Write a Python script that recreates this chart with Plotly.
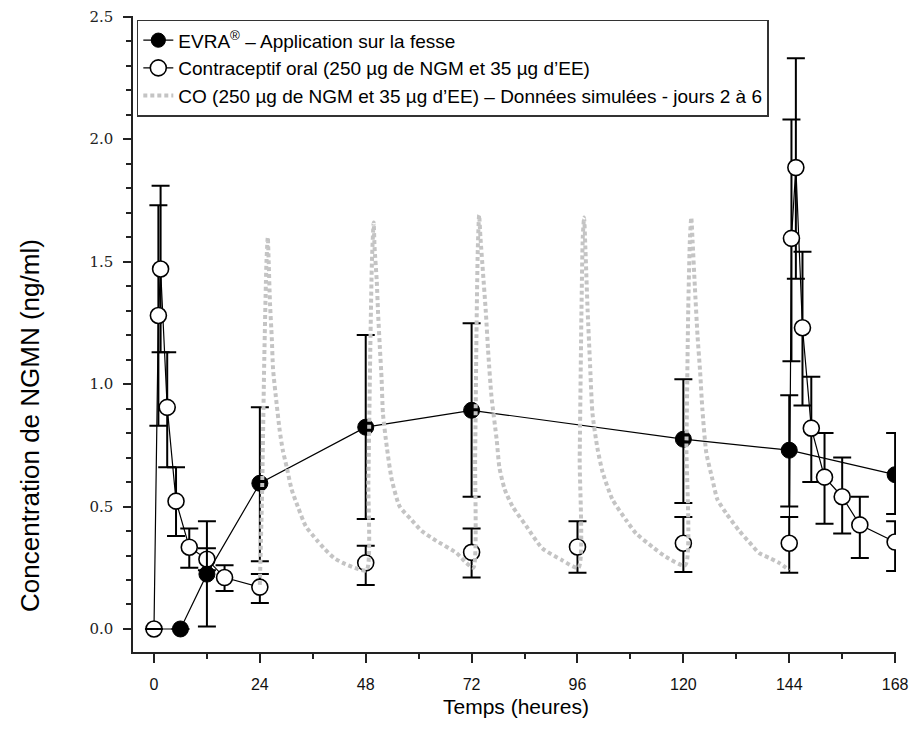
import plotly.graph_objects as go

# ---------------- data ----------------
evra_t = [0, 6, 12, 24, 48, 72, 120, 144, 168]
evra_y = [0.0, 0.0, 0.224, 0.595, 0.824, 0.893, 0.775, 0.73, 0.63]
evra_hi = [None, None, 0.44, 0.905, 1.20, 1.248, 1.02, 0.954, 0.80]
evra_lo = [None, None, 0.01, 0.277, 0.449, 0.54, 0.514, 0.50, 0.47]

# oral contraceptive, day 1 profile
oc_day1_t = [0, 1, 1.5, 3, 5, 8, 12, 16, 24]
oc_day1_y = [0.0, 1.28, 1.47, 0.905, 0.522, 0.334, 0.285, 0.21, 0.171]
oc_day1_hi = [None, 1.73, 1.81, 1.13, 0.66, 0.41, 0.33, 0.26, 0.224]
oc_day1_lo = [None, 0.83, 1.13, 0.66, 0.38, 0.25, 0.24, 0.155, 0.106]
# oral contraceptive, troughs days 2-5
oc_trough_t = [48, 72, 96, 120]
oc_trough_y = [0.27, 0.313, 0.335, 0.35]
oc_trough_hi = [0.34, 0.41, 0.44, 0.457]
oc_trough_lo = [0.18, 0.21, 0.23, 0.233]
# oral contraceptive, day 7 profile
oc_day7_t = [144, 144.5, 145.5, 147, 149, 152, 156, 160, 168]
oc_day7_y = [0.35, 1.595, 1.884, 1.23, 0.82, 0.62, 0.54, 0.425, 0.355]
oc_day7_hi = [0.457, 2.08, 2.33, 1.54, 1.03, 0.80, 0.70, 0.54, 0.44]
oc_day7_lo = [0.23, 1.093, 1.43, 0.913, 0.60, 0.43, 0.39, 0.29, 0.237]

# simulated oral contraceptive, days 2 to 6
sim_day2_t = [24, 24.5, 25, 25.5, 25.8, 26.0, 26.3, 26.7, 27.0, 27.8, 28.5, 29.2, 30.1, 31.2,
              32.6, 34.4, 36.8, 38.5, 40.8, 42.8, 45.5, 48.2]
sim_day2_y = [0.18, 0.55, 1.1, 1.5, 1.60, 1.50, 1.33, 1.19, 1.06, 0.92, 0.81, 0.73, 0.66, 0.57,
              0.50, 0.42, 0.365, 0.33, 0.29, 0.27, 0.25, 0.24]
sim_day3_t = [48.6, 49.0, 49.4, 49.8, 50.0, 50.5, 50.8, 51.2, 51.6, 51.9, 52.8, 53.9, 55.7,
              58.4, 60.7, 64.0, 68.6, 70.8, 72.4]
sim_day3_y = [0.6, 1.1, 1.5, 1.66, 1.56, 1.42, 1.29, 1.15, 1.02, 0.88, 0.74, 0.61, 0.50,
              0.445, 0.40, 0.36, 0.31, 0.27, 0.25]
sim_day4_t = [72.8, 73.1, 73.4, 73.7, 74.0, 74.6, 75.2, 75.8, 76.5, 77.7, 78.3, 79.5, 81.3,
              84.4, 88.0, 92.6, 96.2]
sim_day4_y = [0.7, 1.2, 1.55, 1.69, 1.60, 1.45, 1.30, 1.12, 0.95, 0.77, 0.66, 0.57, 0.50,
              0.42, 0.33, 0.28, 0.25]
sim_day5_t = [96.5, 96.9, 97.2, 97.5, 97.8, 98.3, 98.8, 99.4, 100.5, 101.7, 103.9, 107.0,
              109.3, 113.0, 116.0, 120.4]
sim_day5_y = [0.7, 1.3, 1.6, 1.68, 1.55, 1.30, 1.10, 0.88, 0.74, 0.64, 0.53, 0.445,
              0.39, 0.335, 0.295, 0.26]
sim_day6_t = [120.7, 121.1, 121.5, 121.8, 122.1, 122.6, 123.2, 123.8, 124.3, 125.2, 126.6,
              127.7, 129.8, 132.7, 134.9, 137.2, 139.5, 141.7, 144.0]
sim_day6_y = [0.75, 1.3, 1.6, 1.68, 1.58, 1.40, 1.20, 1.05, 0.90, 0.72, 0.61,
              0.53, 0.47, 0.40, 0.355, 0.31, 0.29, 0.27, 0.24]

x_ticks = [0, 24, 48, 72, 96, 120, 144, 168]
x_minor_ticks = [12, 36, 60, 84, 108, 132, 156]
y_ticks = [0.0, 0.5, 1.0, 1.5, 2.0, 2.5]

legend_names = [
    "EVRA<sup>®</sup> – Application sur la fesse",
    "Contraceptif oral (250 µg de NGM et 35 µg d’EE)",
    "CO (250 µg de NGM et 35 µg d’EE) – Données simulées - jours 2 à 6",
]

# --------------- helpers ---------------
def err_plus(vals, hi):
    return [None if h is None else h - v for v, h in zip(vals, hi)]

def err_minus(vals, lo):
    return [None if l is None else v - l for v, l in zip(vals, lo)]

def errbar(vals, hi, lo):
    return dict(type="data", symmetric=False, array=err_plus(vals, hi),
                arrayminus=err_minus(vals, lo), color="black", thickness=2, width=9)

sim_t = sim_day2_t + sim_day3_t + sim_day4_t + sim_day5_t + sim_day6_t
sim_y = sim_day2_y + sim_day3_y + sim_day4_y + sim_day5_y + sim_day6_y

open_marker = dict(symbol="circle", size=16, color="white", opacity=1,
                   line=dict(color="black", width=1.6))

fig = go.Figure()

fig.add_trace(go.Scatter(
    x=oc_day1_t, y=oc_day1_y, mode="lines+markers", name=legend_names[1],
    legendrank=2, legendgroup="oc",
    line=dict(color="black", width=1.2), marker=open_marker,
    error_y=errbar(oc_day1_y, oc_day1_hi, oc_day1_lo),
))
fig.add_trace(go.Scatter(
    x=oc_trough_t, y=oc_trough_y, mode="markers", name=legend_names[1],
    legendgroup="oc", showlegend=False, marker=open_marker,
    error_y=errbar(oc_trough_y, oc_trough_hi, oc_trough_lo),
))
fig.add_trace(go.Scatter(
    x=oc_day7_t, y=oc_day7_y, mode="lines+markers", name=legend_names[1],
    legendgroup="oc", showlegend=False,
    line=dict(color="black", width=1.2), marker=open_marker,
    error_y=errbar(oc_day7_y, oc_day7_hi, oc_day7_lo),
))

fig.add_trace(go.Scatter(
    x=evra_t, y=evra_y, mode="lines+markers", name=legend_names[0],
    legendrank=1, legendgroup="evra",
    line=dict(color="black", width=1.2),
    marker=dict(symbol="circle", size=[0 if t == 0 else 16 for t in evra_t], color="#000000",
                opacity=1, line=dict(color="#000000", width=1)),
    error_y=errbar(evra_y, evra_hi, evra_lo),
))

fig.add_trace(go.Scatter(
    x=sim_t, y=sim_y, mode="lines", name=legend_names[2], legendrank=3, legendgroup="sim",
    line=dict(color="#c4c4c4", width=4, dash="4px,3px", shape="spline", smoothing=0.6),
))

# The page body has an 8px margin, so the figure is sized/offset to fit the window.
fig.update_layout(
    width=901, height=736,
    margin=dict(l=125, r=13, t=8, b=92, autoexpand=False),
    paper_bgcolor="white", plot_bgcolor="white",
    showlegend=True,
    legend=dict(x=0.005, y=0.994, xanchor="left", yanchor="top",
                bgcolor="white", bordercolor="#333", borderwidth=1.5,
                font=dict(family="Liberation Sans, Arial, sans-serif", size=19, color="black"),
                tracegroupgap=0, itemwidth=30),
    xaxis=dict(range=[-4.755, 168.2], tickvals=x_ticks, ticktext=[str(v) for v in x_ticks],
               automargin=False,
               showgrid=False, zeroline=False, showline=True, linecolor="#222", linewidth=1.5,
               ticks="outside", ticklen=9, tickwidth=1.5, tickcolor="#222",
               tickfont=dict(family="Liberation Sans Narrow, Liberation Sans, Arial", size=16, color="#111"),
               ticklabelstandoff=8, ticklabeloverflow="allow",
               minor=dict(tickvals=x_minor_ticks, ticks="outside", ticklen=5,
                          tickwidth=1.5, tickcolor="#222")),
    yaxis=dict(range=[-0.094, 2.503], tickvals=y_ticks, ticktext=["%.1f" % v for v in y_ticks],
               automargin=False,
               showgrid=False, zeroline=False, showline=True, linecolor="#222", linewidth=1.5,
               ticks="outside", ticklen=8, tickwidth=1.5, tickcolor="#222",
               tickfont=dict(family="DejaVu Serif, serif", size=15, color="#222"),
               ticklabelstandoff=7, ticklabeloverflow="allow",
               minor=dict(dtick=0.1, tick0=0, ticks="outside", ticklen=5, tickwidth=1.5,
                          tickcolor="#222")),
    annotations=[
        dict(text="Temps (heures)", xref="paper", yref="paper", x=0.502, y=-0.085,
             showarrow=False, xanchor="center", yanchor="middle",
             font=dict(family="Liberation Sans, Arial", size=21, color="black")),
        dict(text="Concentration de NGMN (ng/ml)", xref="paper", yref="paper", x=-0.135, y=0.357,
             showarrow=False, textangle=-90, xanchor="center", yanchor="middle",
             font=dict(family="Liberation Sans, Arial", size=26, color="black")),
    ],
)

fig.write_html("out.html")
